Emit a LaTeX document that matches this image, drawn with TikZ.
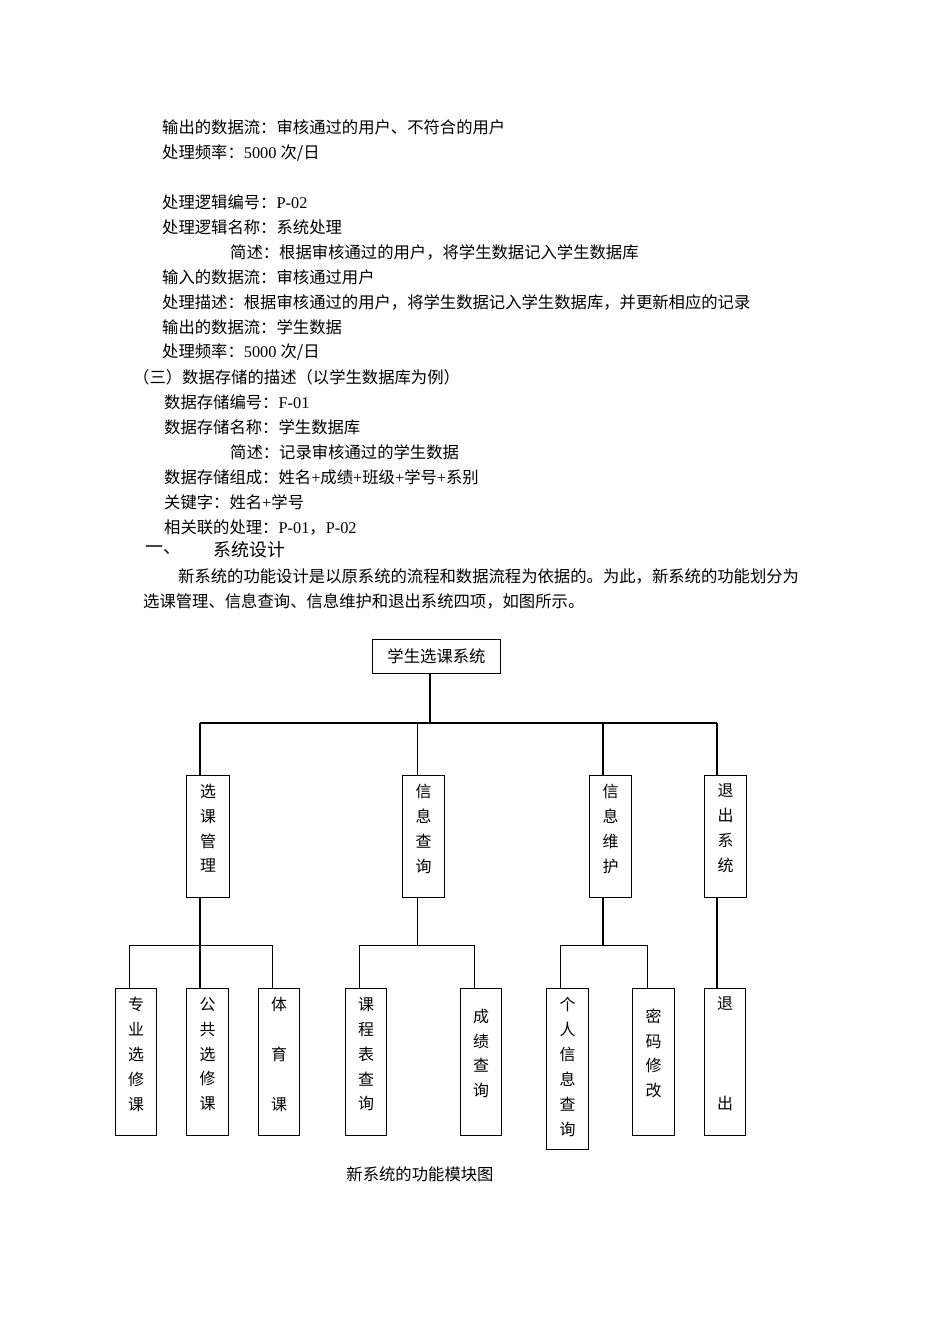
\documentclass[tikz,border=0pt]{standalone}
\usepackage{fontspec}
\setmainfont{Liberation Serif}
\newfontfamily\cjk{Noto Sans CJK SC}
\begin{document}
\begin{tikzpicture}[x=1bp,y=-1bp,
  tx/.style={anchor=west,inner sep=0,font=\fontsize{16.4}{18}\selectfont},
  box/.style={draw,line width=1pt,inner sep=0},
  vt/.style={anchor=north,inner sep=0,align=center,font=\cjk\fontsize{16}{25}\selectfont},
  thk/.style={line width=1.4pt},
  thn/.style={line width=0.7pt}]
\useasboundingbox (0,0) rectangle (950,1344);
\newcommand{\C}[1]{{\cjk #1}}
\node[tx] (t1) at (162,127) {\C{输出的数据流：审核通过的用户、不符合的用户}};
\node[tx] (t2) at (162,153) {\C{处理频率：}5000 \C{次/日}};
\node[tx] (t3) at (162,202) {\C{处理逻辑编号：}P-02};
\node[tx] (t4) at (162,227) {\C{处理逻辑名称：系统处理}};
\node[tx] (t5) at (230,252) {\C{简述：根据审核通过的用户，将学生数据记入学生数据库}};
\node[tx] (t6) at (162,277) {\C{输入的数据流：审核通过用户}};
\node[tx] (t7) at (162,302) {\C{处理描述：根据审核通过的用户，将学生数据记入学生数据库，并更新相应的记录}};
\node[tx] (t8) at (162,327) {\C{输出的数据流：学生数据}};
\node[tx] (t9) at (162,352) {\C{处理频率：}5000 \C{次/日}};
\node[tx] (t10) at (133,377) {\C{（三）数据存储的描述（以学生数据库为例）}};
\node[tx] (t11) at (164,402) {\C{数据存储编号：}F-01};
\node[tx] (t12) at (164,427) {\C{数据存储名称：学生数据库}};
\node[tx] (t13) at (230,452) {\C{简述：记录审核通过的学生数据}};
\node[tx] (t14) at (164,477) {\C{数据存储组成：姓名}+\C{成绩}+\C{班级}+\C{学号}+\C{系别}};
\node[tx] (t15) at (164,502) {\C{关键字：姓名}+\C{学号}};
\node[tx] (t16) at (164,527) {\C{相关联的处理：}P-01\C{，}P-02};
\node[tx,font=\fontsize{18}{20}\selectfont] (t17) at (145,550) {\C{一、}};
\node[tx,font=\fontsize{18}{20}\selectfont] (t18) at (213,550) {\C{系统设计}};
\node[tx] (t19) at (178,576) {\C{新系统的功能设计是以原系统的流程和数据流程为依据的。为此，新系统的功能划分为}};
\node[tx] (t20) at (143,601) {\C{选课管理、信息查询、信息维护和退出系统四项，如图所示。}};
% diagram
\node[box,minimum width=129,minimum height=35,font=\cjk\fontsize{16.4}{18}\selectfont] (root) at (436.5,656.5) {学生选课系统};
\foreach \n/\x/\w/\t in {a/208/44/选\\课\\管\\理, b/423.5/43/信\\息\\查\\询, c/610.5/43/信\\息\\维\\护, d/725.5/43/退\\出\\系\\统}{
  \node[box,minimum width=\w,minimum height=123] (\n) at (\x,836.5) {};
  \node[vt] (\n t) at ([yshift=-9bp]\n.north) {\t};
}
\foreach \n/\x/\h/\t in {
  e/136/148/专\\业\\选\\修\\课, f/207.5/148/公\\共\\选\\修\\课, g/279/148/体\\\\育\\\\课,
  h/366/148/课\\程\\表\\查\\询, i/481/148/\\成\\绩\\查\\询,
  j/567.5/162/个\\人\\信\\息\\查\\询, k/653.5/148/\\密\\码\\修\\改, l/725/148/退\\\\\\\\出}{
  \node[box,minimum width=42,minimum height=\h,anchor=north] (\n) at (\x,988) {};
  \node[vt] (\n t) at ([yshift=-9bp]\n.north) {\t};
}
\coordinate (h1) at (200,723); \coordinate (h2) at (717,723);
\draw[thk] (root.south -| 430,0) -- (430,723);
\draw[thk] (h1) -- (h2);
\draw[thk] (h1) -- (h1 |- a.north);
\draw[thn] (417,723) -- (417,0 |- b.north);
\draw[thk] (603,723) -- (603,0 |- c.north);
\draw[thk] (h2) -- (h2 |- d.north);
% lower
\draw[thk] (200,0 |- a.south) -- (200,0 |- f.north);
\draw[thn] (e.north -| 129,0) |- (272,945) -- (272,0 |- g.north);
\draw[thn] (417,0 |- b.south) -- (417,945);
\draw[thn] (359,0 |- h.north) |- (474,945) -- (474,0 |- i.north);
\draw[thk] (603,0 |- c.south) -- (603,945);
\draw[thn] (560,0 |- j.north) |- (647,945) -- (647,0 |- k.north);
\draw[thk] (717,0 |- d.south) -- (717,0 |- l.north);
\node[inner sep=0,font=\cjk\fontsize{16.4}{18}\selectfont] (cap) at (420,1174) {新系统的功能模块图};
\end{tikzpicture}
\end{document}
